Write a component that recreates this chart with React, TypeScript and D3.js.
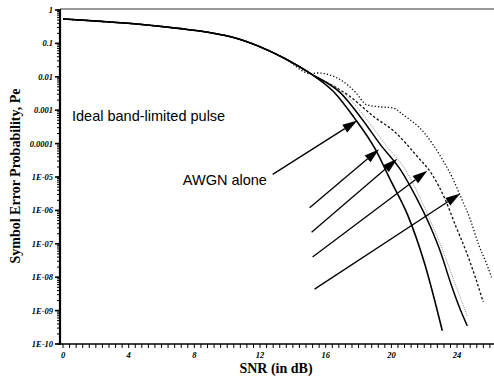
import * as d3 from "d3";

const W = 494;
const H = 379;

// all curves share this part below ~15 dB
const snrCommon = [0, 2.3, 4.5, 7, 9, 10.5, 12, 13.5, 15.1];
const peCommon = [0.54, 0.457, 0.38, 0.282, 0.209, 0.145, 0.079, 0.0355, 0.0123];

// AWGN alone
const snrAwgn = [16.5, 17.7, 19.0, 20.0, 21.0, 22.0, 23.1];
const peAwgn = [3.5e-3, 6.3e-4, 7.1e-5, 7.1e-6, 7.1e-7, 2.8e-8, 2.5e-10];

// solid curve right of AWGN
const snrSolid2 = [16.9, 18.24, 19.33, 20.55, 21.58, 22.37, 23.04, 23.59, 24.19, 24.62];
const peSolid2 = [3.3e-3, 5.2e-4, 9.3e-5, 1.66e-5, 2.1e-6, 3.3e-7, 4.9e-8, 7.1e-9, 1.1e-9, 3.5e-10];

// light dotted curve
const snrLight = [17.2, 18.42, 19.64, 20.85, 22.07, 23.1, 23.89, 24.62];
const peLight = [2.9e-3, 6e-4, 9.3e-5, 1.66e-5, 1.07e-6, 6.9e-8, 6.2e-9, 6.9e-10];

// dashed curve
const snrDashed = [17.51, 18.91, 20.18, 21.58, 22.49, 23.28, 23.95, 24.5, 25.11, 25.59];
const peDashed = [2.5e-3, 6.5e-4, 2.3e-4, 4.1e-5, 1.17e-5, 2.1e-6, 3.1e-7, 6.9e-8, 1e-8, 1.8e-9];

// dotted curve with the bump
const snrDotted = [15.5, 16.9, 17.8, 18.5, 19.3, 20.1, 20.7, 22.0, 23.0, 23.7, 24.3, 24.8, 25.3, 25.8, 26.1];
const peDotted = [1.3e-2, 8.1e-3, 3.5e-3, 1.45e-3, 1.26e-3, 1.17e-3, 7.4e-4, 2.1e-4, 4.1e-5, 9.8e-6, 2.1e-6, 5.4e-7, 9.8e-8, 2.5e-8, 1e-8];

const xTickLabels = [0, 4, 8, 12, 16, 20, 24];
const yTickValues = [1, 1e-1, 1e-2, 1e-3, 1e-4, 1e-5, 1e-6, 1e-7, 1e-8, 1e-9, 1e-10];
const yTickLabels = ["1", "0.1", "0.01", "0.001", "0.0001", "1E-05", "1E-06", "1E-07", "1E-08", "1E-09", "1E-10"];

// arrows: [snr start, pe start, snr tip, pe tip]
const arrows = [
  [12.77, 1.2e-5, 17.93, 4.9e-4],
  [15.02, 1.2e-6, 19.25, 6.8e-5],
  [15.14, 2.2e-7, 20.36, 3.5e-5],
  [15.2, 4e-8, 22.19, 1.55e-5],
  [15.32, 4.4e-9, 24.2, 3.2e-6],
];

const x = d3.scaleLinear().domain([0, 26.2]).range([63, 493.2]);
const y = d3.scaleLog().domain([1, 1e-10]).range([10, 344]);

const line = d3
  .line<[number, number]>()
  .x((d) => x(d[0]))
  .y((d) => y(d[1]))
  .curve(d3.curveMonotoneX);

function series(snr: number[], pe: number[]) {
  const pts: [number, number][] = snrCommon.map((s, i) => [s, peCommon[i]]);
  snr.forEach((s, i) => pts.push([s, pe[i]]));
  return line(pts) || "";
}

const curves = [
  { d: series(snrDotted, peDotted), stroke: "#111", w: 1.3, dash: "1.3 2" },
  { d: series(snrDashed, peDashed), stroke: "#111", w: 1.3, dash: "2.5 2" },
  { d: series(snrLight, peLight), stroke: "#888", w: 1, dash: "1 1.2" },
  { d: series(snrSolid2, peSolid2), stroke: "#000", w: 1.5, dash: "none" },
  { d: series(snrAwgn, peAwgn), stroke: "#000", w: 1.6, dash: "none" },
];

function Arrow({ a }: { a: number[] }) {
  const x1 = x(a[0]), y1 = y(a[1]), x2 = x(a[2]), y2 = y(a[3]);
  const ang = Math.atan2(y2 - y1, x2 - x1);
  const len = 15, half = 4.5;
  const bx = x2 - len * Math.cos(ang), by = y2 - len * Math.sin(ang);
  const p = [
    [x2, y2],
    [bx + half * Math.sin(ang), by - half * Math.cos(ang)],
    [bx - half * Math.sin(ang), by + half * Math.cos(ang)],
  ];
  return (
    <g>
      <line x1={x1} y1={y1} x2={bx} y2={by} stroke="#000" strokeWidth={1.3} />
      <polygon points={p.map((q) => q.join(",")).join(" ")} fill="#000" />
    </g>
  );
}

export default function App() {
  const xMinor = d3.range(0, 26.2, 0.4);
  const yMinor = y.ticks(40);
  const tickFont = { fontFamily: "Liberation Serif", fontStyle: "italic", fontWeight: "bold", fontSize: 8.5 } as const;

  return (
    <svg width={W} height={H} style={{ position: "absolute", left: 0, top: 0, background: "#fff" }}>
      <rect width={W} height={H} fill="#fff" />
      {/* frame */}
      <line x1={60} x2={W} y1={9} y2={9} stroke="#333" strokeWidth={1.2} />
      <line x1={60} x2={60} y1={9} y2={345} stroke="#000" strokeWidth={2.2} />
      <line x1={60} x2={W} y1={344} y2={344} stroke="#000" strokeWidth={1.5} />

      {/* x ticks */}
      {xMinor.map((t, i) => (
        <line key={i} x1={x(t)} x2={x(t)} y1={344} y2={348} stroke="#000" strokeWidth={1} />
      ))}
      {xTickLabels.map((t) => (
        <text key={t} x={x(t)} y={358} textAnchor="middle" {...tickFont}>
          {t}
        </text>
      ))}

      {/* y ticks */}
      {yMinor.map((t, i) => (
        <line key={i} x1={57} x2={60} y1={y(t)} y2={y(t)} stroke="#000" strokeWidth={1} />
      ))}
      {yTickValues.map((t, i) => (
        <g key={i}>
          <line x1={55} x2={60} y1={y(t)} y2={y(t)} stroke="#000" strokeWidth={1.6} />
          <text x={53} y={y(t) + 3} textAnchor="end" {...tickFont}>
            {yTickLabels[i]}
          </text>
        </g>
      ))}

      {/* curves */}
      {curves.map((c, i) => (
        <path key={i} d={c.d} fill="none" stroke={c.stroke} strokeWidth={c.w} strokeDasharray={c.dash} />
      ))}

      {arrows.map((a, i) => (
        <Arrow key={i} a={a} />
      ))}

      <text x={x(0.55)} y={y(4.6e-4)} fontFamily="Liberation Sans" fontSize={14.5}>
        Ideal band-limited pulse
      </text>
      <text x={x(7.3)} y={y(5.6e-6)} fontFamily="Liberation Sans" fontSize={14.5}>
        AWGN alone
      </text>

      <text x={276} y={373} textAnchor="middle" fontFamily="Liberation Serif" fontWeight="bold" fontSize={14}>
        SNR (in dB)
      </text>
      <text
        transform="translate(20,176) rotate(-90)"
        textAnchor="middle"
        fontFamily="Liberation Serif"
        fontWeight="bold"
        fontSize={14}
      >
        Symbol Error Probability, Pe
      </text>
    </svg>
  );
}
